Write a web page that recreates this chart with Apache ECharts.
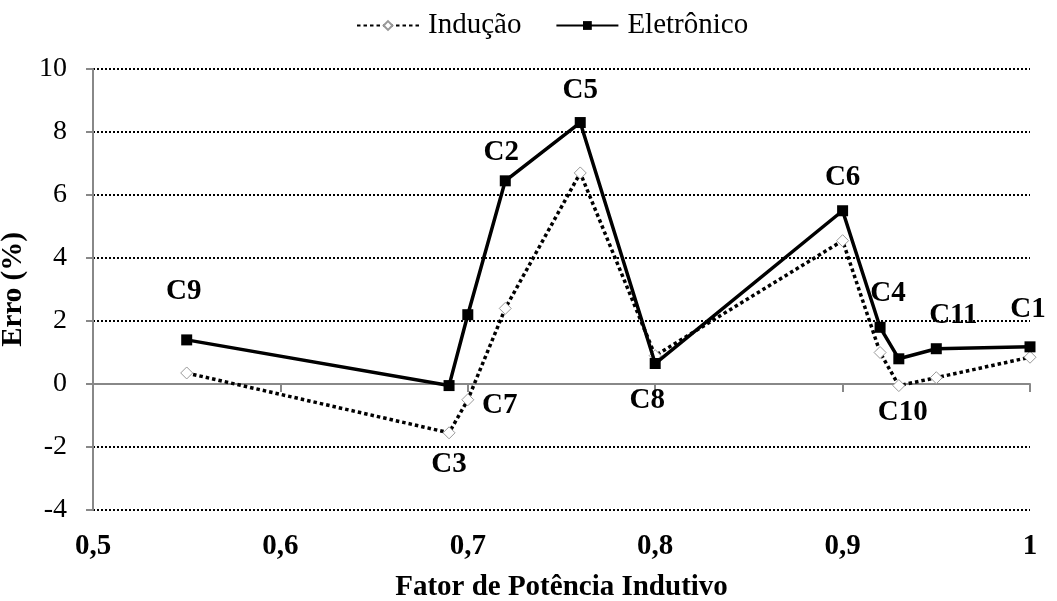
<!DOCTYPE html>
<html>
<head>
<meta charset="utf-8">
<script src="https://cdn.jsdelivr.net/npm/echarts@6/dist/echarts.min.js"></script>
<style>
  html, body { margin: 0; padding: 0; background: #fff; }
  #grafico { width: 1057px; height: 601px; }
</style>
</head>
<body>
<div id="grafico"></div>
<script>
// dados
const casos = ['C9', 'C3', 'C7', 'C2', 'C5', 'C8', 'C6', 'C4', 'C10', 'C11', 'C1'];
const fatorPotencia = [0.55, 0.69, 0.70, 0.72, 0.76, 0.80, 0.90, 0.92, 0.93, 0.95, 1.00];
const erroInducao = [0.35, -1.55, -0.5, 2.4, 6.7, 0.9, 4.55, 1.0, -0.05, 0.2, 0.85];
const erroEletronico = [1.4, -0.05, 2.2, 6.45, 8.3, 0.65, 5.5, 1.8, 0.8, 1.12, 1.18];

// deslocamento dos rótulos (px) em relação ao ponto do Eletrônico
const deslocRotulos = {
  C9: [-3, -48], C3: [0, 79], C7: [32, 91], C2: [-4, -28], C5: [0, -32],
  C8: [-8, 37], C6: [0, -33], C4: [8, -34], C10: [4, 54], C11: [17, -33], C1: [-2, -37]
};

const FONTE = '"Liberation Serif", "Times New Roman", serif';
const CINZA = '#888';

const chart = echarts.init(document.getElementById('grafico'));

const dadosEletronico = fatorPotencia.map((x, i) => ({
  value: [x, erroEletronico[i]],
  label: {
    show: true,
    position: 'inside',
    offset: deslocRotulos[casos[i]],
    formatter: casos[i],
    color: '#000',
    fontFamily: FONTE,
    fontWeight: 'bold',
    fontSize: 29
  }
}));

chart.setOption({
  animation: false,
  backgroundColor: '#fff',
  legend: {
    top: 6,
    left: 351,
    itemWidth: 62,
    itemHeight: 11,
    itemGap: 34,
    textStyle: { fontFamily: FONTE, fontSize: 29, color: '#000', padding: [0, 0, 0, 4] },
    data: ['Indução', 'Eletrônico']
  },
  grid: { left: 93, right: 27, top: 69, bottom: 91, outerBoundsMode: 'none' },
  xAxis: [
    {
      type: 'value', min: 0.5, max: 1, interval: 0.1,
      axisLine: { show: false, onZero: false },
      axisTick: { show: false },
      splitLine: { show: false },
      axisLabel: {
        margin: 22,
        fontFamily: FONTE, fontWeight: 'bold', fontSize: 29, color: '#000',
        formatter: v => String(Math.round(v * 10) / 10).replace('.', ',')
      },
      name: 'Fator de Potência Indutivo',
      nameLocation: 'middle',
      nameGap: 63,
      nameTextStyle: { fontFamily: FONTE, fontWeight: 'bold', fontSize: 29, color: '#000' }
    },
    {
      type: 'value', min: 0.5, max: 1, interval: 0.1,
      position: 'bottom',
      axisLine: { show: true, onZero: true, lineStyle: { color: CINZA, width: 2 } },
      axisTick: { show: true, inside: false, length: 8, lineStyle: { color: CINZA, width: 2 } },
      axisLabel: { show: false },
      splitLine: { show: false }
    }
  ],
  yAxis: {
    type: 'value', min: -4, max: 10, interval: 2,
    axisLine: { show: true, lineStyle: { color: CINZA, width: 2 } },
    axisTick: { show: true, length: 7, lineStyle: { color: CINZA, width: 2 } },
    axisLabel: { margin: 26, fontFamily: FONTE, fontSize: 28, color: '#000' },
    splitLine: { show: true, lineStyle: { color: '#000', width: 2, type: [2, 2] } },
    name: 'Erro (%)',
    nameLocation: 'middle',
    nameGap: 52,
    nameTextStyle: { fontFamily: FONTE, fontWeight: 'bold', fontSize: 29, color: '#000' }
  },
  series: [
    {
      name: 'Indução',
      type: 'line',
      data: fatorPotencia.map((x, i) => [x, erroInducao[i]]),
      symbol: 'diamond',
      symbolSize: 12,
      itemStyle: { color: '#fff', borderColor: '#999', borderWidth: 1 },
      lineStyle: { color: '#000', width: 3.5, type: [3.5, 3] },
      z: 2
    },
    {
      name: 'Eletrônico',
      type: 'line',
      data: dadosEletronico,
      symbol: 'rect',
      symbolSize: 11,
      itemStyle: { color: '#000' },
      lineStyle: { color: '#000', width: 3.5 },
      z: 3
    }
  ]
});
</script>
</body>
</html>
